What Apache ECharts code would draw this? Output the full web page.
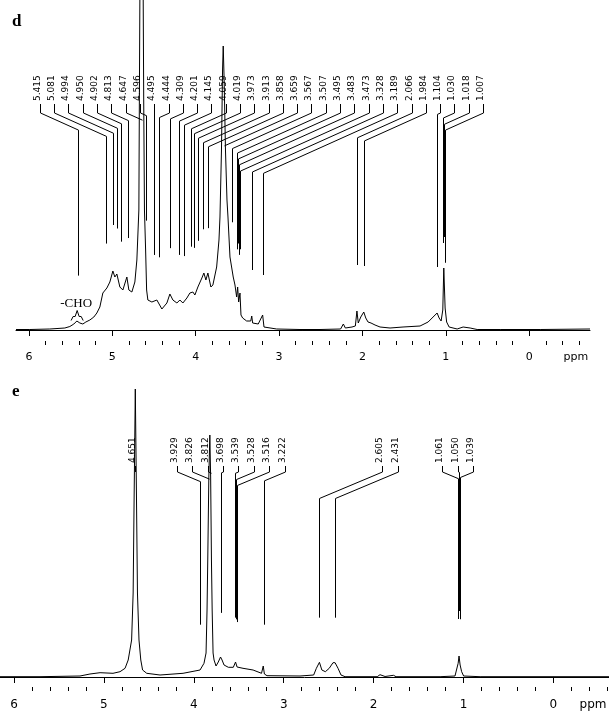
<!DOCTYPE html>
<html>
<head>
<meta charset="utf-8">
<style>
  html, body { margin: 0; padding: 0; background: #fff; }
  #chart { width: 609px; height: 711px; }
</style>
<script src="https://cdn.jsdelivr.net/npm/echarts@6/dist/echarts.min.js"></script>
</head>
<body>
<div id="chart"></div>
<script>
// spectrum d : [ppm, intensity]
var spectrumD = [
  [6.156,0.5],[5.990,0.5],[5.750,1],[5.570,2],[5.510,3.5],[5.462,6],[5.426,9],[5.390,7],[5.354,6],[5.318,8],
  [5.270,10],[5.222,13],[5.186,17],[5.150,23],[5.114,37],[5.066,42],[5.030,48],[4.994,59],[4.970,53],[4.946,56],
  [4.910,43],[4.874,40],[4.826,53],[4.802,40],[4.766,38],[4.730,48],[4.706,70],[4.682,120],[4.676,230],[4.670,330],
  [4.651,900],[4.630,330],[4.624,230],[4.615,120],[4.601,80],[4.589,40],[4.574,30],[4.526,28],[4.466,30],[4.406,21],
  [4.346,27],[4.310,36],[4.274,30],[4.226,27],[4.190,30],[4.154,27],[4.106,32],[4.070,37],[4.034,38],[4.010,35],
  [3.974,43],[3.926,52],[3.902,57],[3.878,50],[3.854,57],[3.818,43],[3.794,45],[3.749,63],[3.721,90],[3.709,113],
  [3.691,180],[3.678,260],[3.670,284],[3.659,250],[3.643,180],[3.625,130],[3.613,113],[3.589,73],[3.550,53],[3.529,45],
  [3.509,33],[3.497,43],[3.485,28],[3.469,37],[3.457,15],[3.437,12],[3.389,9],[3.340,9],[3.328,14],[3.317,7],
  [3.250,6],[3.197,15],[3.181,3],[3.169,2],[3.029,1],[2.749,0.5],[2.509,0.5],[2.262,1],[2.245,3],[2.229,6],
  [2.205,2],[2.185,1],[2.125,3],[2.085,4],[2.066,19],[2.050,7],[2.020,13],[1.984,18],[1.960,12],[1.933,8],
  [1.897,7],[1.849,5],[1.831,6],[1.789,3],[1.669,2],[1.513,3],[1.309,4],[1.212,8],[1.152,13],[1.104,17],
  [1.080,12],[1.056,9],[1.036,20],[1.024,62],[1.008,22],[0.990,8],[0.960,3],[0.864,1],[0.792,3],[0.708,2],
  [0.624,0.5],[0.348,0.5],[-0.132,0.5],[-0.730,1]
];

// spectrum e
var spectrumE = [
  [6.156,0.3],[5.711,0.3],[5.266,1],[5.155,3],[5.043,4.3],[4.899,3.7],[4.821,5.3],[4.765,8.7],[4.730,17],[4.692,37],
  [4.675,84],[4.664,180],[4.651,288],[4.638,180],[4.627,84],[4.610,37],[4.590,17],[4.570,7],[4.524,3.7],[4.376,2],
  [4.120,3.7],[3.931,7],[3.887,13.7],[3.864,24],[3.853,67],[3.845,117],[3.833,200],[3.822,242],[3.813,200],[3.804,117],
  [3.796,67],[3.786,24],[3.775,17],[3.753,11],[3.728,15],[3.703,20],[3.686,17],[3.664,12],[3.616,9.7],[3.561,9.7],
  [3.536,15],[3.519,10],[3.453,8.7],[3.341,7],[3.247,3.7],[3.228,11],[3.215,3],[3.186,1.3],[2.819,1],[2.667,2],
  [2.637,8.7],[2.603,14.7],[2.576,7],[2.537,5.3],[2.494,8.7],[2.452,14.3],[2.429,14.3],[2.396,8.7],[2.363,2],[2.318,0.3],
  [1.960,0.3],[1.929,2.3],[1.873,0.5],[1.779,1.7],[1.751,0.3],[1.261,0.3],[1.095,1],[1.077,2],[1.060,13.7],[1.050,21],
  [1.038,12],[1.021,5.3],[0.999,1],[0.816,0.3],[-0.618,0.3]
];

// picked peaks
var peaksD = [5.415, 5.081, 4.994, 4.950, 4.902, 4.813, 4.647, 4.596, 4.495, 4.444, 4.309, 4.201, 4.145, 4.059,
  4.019, 3.973, 3.913, 3.858, 3.659, 3.567, 3.507, 3.495, 3.483, 3.473, 3.328, 3.189, 2.066, 1.984,
  1.104, 1.030, 1.018, 1.007];
var peaksE = [4.651, 3.929, 3.826, 3.812, 3.698, 3.539, 3.528, 3.516, 3.222, 2.605, 2.431, 1.061, 1.050, 1.039];

// axis ticks (ppm)
var majorTicks = [6, 5, 4, 3, 2, 1, 0];
var minorTicks = [5.8, 5.6, 5.4, 5.2, 4.8, 4.6, 4.4, 4.2, 3.8, 3.6, 3.4, 3.2, 2.8, 2.6, 2.4, 2.2,
  1.8, 1.6, 1.4, 1.2, 0.8, 0.6, 0.4, 0.2, -0.2, -0.4, -0.6];

// where the peak labels sit along the axis (ppm), groups of evenly spaced slots
var SLOT_STEP = 0.1715;
var slotGroupsD = [{start: 5.870, n: 32}];
var slotGroupsE = [{start: 4.651, n: 1}, {start: 4.190, n: 8}, {start: 1.903, n: 2}, {start: 1.236, n: 3}];

// -CHO brace under the label, d panel
var choBrace = {from: 5.495, to: 5.350, level: 13.5, text: '-CHO'};

function heightAt(spec, x) {
  for (var i = 0; i < spec.length - 1; i++) {
    var a = spec[i], b = spec[i + 1];
    if (x <= a[0] && x >= b[0]) {
      var t = (a[0] - x) / (a[0] - b[0]);
      return a[1] + (b[1] - a[1]) * t;
    }
  }
  return 0;
}

function slotList(groups) {
  var out = [];
  groups.forEach(function (g) {
    for (var k = 0; k < g.n; k++) out.push(g.start - k * SLOT_STEP);
  });
  return out;
}

function leaderData(peaks, groups, spec) {
  var slots = slotList(groups);
  return peaks.map(function (p, i) { return [p, slots[i], heightAt(spec, p)]; });
}

function leaderItem(lay) {
  return function (params, api) {
    var peak = api.value(0), slot = api.value(1), h = api.value(2);
    var tip = api.coord([peak, h + lay.gap]);
    var px = Math.round(tip[0]) + 0.5;
    var sx = Math.round(api.coord([slot, 0])[0]) + 0.5;
    var kinkY = lay.hookBottom + Math.abs(px - sx) * lay.slope;
    var pts = [[sx, lay.hookTop], [sx, lay.hookBottom], [px, kinkY]];
    if (tip[1] > kinkY) pts.push([px, tip[1]]);
    return {
      type: 'group',
      children: [
        {type: 'polyline', shape: {points: pts}, style: {stroke: '#000', lineWidth: 1, fill: null}},
        {type: 'text', x: sx - 3, y: lay.textBottom, rotation: Math.PI / 2,
          style: {text: peak.toFixed(3), fill: '#000', font: '9px "DejaVu Sans"', align: 'left', verticalAlign: 'middle'}}
      ]
    };
  };
}

function braceItem(params, api) {
  var a = api.coord([api.value(0), api.value(2)]);
  var b = api.coord([api.value(1), api.value(2)]);
  var yb = a[1], x1 = a[0], x2 = b[0], xc = (x1 + x2) / 2;
  return {
    type: 'group',
    children: [
      {type: 'polyline', shape: {points: [[x1, yb + 4], [x1 + 2, yb], [xc - 2, yb], [xc, yb - 6], [xc + 2, yb], [x2 - 2, yb], [x2, yb + 4]]},
        style: {stroke: '#000', lineWidth: 1, fill: null}},
      {type: 'text', x: xc - 1, y: yb - 13, style: {text: choBrace.text, fill: '#000',
        font: '13px "Liberation Serif"', align: 'center', verticalAlign: 'middle'}}
    ]
  };
}

function ppmLabel(at) {
  return function (v) { return v < -0.1 ? 'ppm' : String(v); };
}

function majorAxis(grid, min, max, ppmAt, fontSize, margin) {
  return {
    gridIndex: grid, type: 'value', min: min, max: max, inverse: true, position: 'bottom',
    axisLine: {lineStyle: {color: '#000', width: 1}},
    axisTick: {customValues: majorTicks, length: 6, lineStyle: {color: '#000', width: 1}},
    axisLabel: {customValues: majorTicks.concat([ppmAt]), formatter: ppmLabel(ppmAt), color: '#000',
      fontFamily: 'DejaVu Sans', fontSize: fontSize, margin: margin},
    splitLine: {show: false}
  };
}

function minorAxis(grid, min, max) {
  return {
    gridIndex: grid, type: 'value', min: min, max: max, inverse: true, position: 'bottom',
    axisLine: {show: false},
    axisTick: {customValues: minorTicks, length: 4, lineStyle: {color: '#000', width: 1}},
    axisLabel: {show: false},
    splitLine: {show: false}
  };
}

var chart = echarts.init(document.getElementById('chart'));

var lineStyle = {color: '#000', width: 1};

var option = {
  backgroundColor: '#fff',
  animation: false,
  title: [
    {text: 'd', left: 12, top: 13, padding: 0,
      textStyle: {fontFamily: 'Liberation Serif', fontWeight: 'bold', fontSize: 17, color: '#000'}},
    {text: 'e', left: 12, top: 383, padding: 0,
      textStyle: {fontFamily: 'Liberation Serif', fontWeight: 'bold', fontSize: 17, color: '#000'}}
  ],
  grid: [
    {left: 16, right: 19, top: 0, height: 341, outerBoundsMode: 'none'},
    {left: 0, right: 0, top: 380, height: 307, outerBoundsMode: 'none'}
  ],
  xAxis: [
    majorAxis(0, -0.73, 6.156, -0.56, 11, 11),
    minorAxis(0, -0.73, 6.156),
    majorAxis(1, -0.618, 6.156, -0.44, 12, 12),
    minorAxis(1, -0.618, 6.156)
  ],
  yAxis: [
    {gridIndex: 0, type: 'value', min: -11, max: 330, show: false},
    {gridIndex: 1, type: 'value', min: -10, max: 297, show: false}
  ],
  series: [
    {type: 'line', xAxisIndex: 0, yAxisIndex: 0, data: spectrumD, showSymbol: false, clip: true,
      lineStyle: lineStyle, silent: true},
    {type: 'line', xAxisIndex: 2, yAxisIndex: 1, data: spectrumE, showSymbol: false, clip: true,
      lineStyle: lineStyle, silent: true},
    {type: 'custom', xAxisIndex: 0, yAxisIndex: 0, silent: true, encode: {x: 0, y: 2},
      data: leaderData(peaksD, slotGroupsD, spectrumD),
      renderItem: leaderItem({textBottom: 101, hookTop: 104, hookBottom: 113, slope: 0.45, gap: 46})},
    {type: 'custom', xAxisIndex: 2, yAxisIndex: 1, silent: true, encode: {x: 0, y: 2},
      data: leaderData(peaksE, slotGroupsE, spectrumE),
      renderItem: leaderItem({textBottom: 463, hookTop: 466, hookBottom: 472, slope: 0.42, gap: 45})},
    {type: 'custom', xAxisIndex: 0, yAxisIndex: 0, silent: true, encode: {x: [0, 1], y: 2},
      data: [[choBrace.from, choBrace.to, choBrace.level]],
      renderItem: braceItem}
  ]
};

chart.setOption(option);
</script>
</body>
</html>
